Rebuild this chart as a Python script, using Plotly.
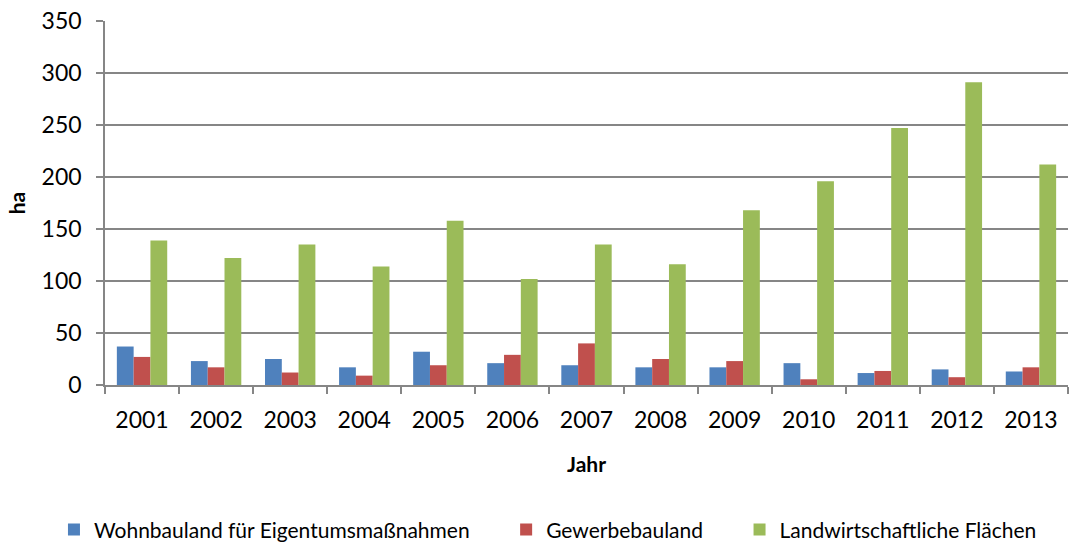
import plotly.graph_objects as go

years = ["2001", "2002", "2003", "2004", "2005", "2006", "2007",
         "2008", "2009", "2010", "2011", "2012", "2013"]
wohnbauland = [37, 23, 25, 17, 32, 21, 19, 17, 17, 21, 11.5, 15, 13]
gewerbebauland = [27, 17, 12, 9, 19, 29, 40, 25, 23, 5.5, 13.5, 7.5, 17]
landwirtschaft = [139, 122, 135, 114, 158, 102, 135, 116, 168, 196, 247, 291, 212]

series_names = ["Wohnbauland für Eigentumsmaßnahmen", "Gewerbebauland",
                "Landwirtschaftliche Flächen"]
legend_pad = ["\u2002" * 3, "\u2002" * 3, ""]
colors = ["#4F81BD", "#C0504D", "#9BBB59"]

FONT = "Lato, Carlito, Calibri, sans-serif"
GRID = "#868686"

fig = go.Figure()
for name, pad, vals, col in zip(series_names, legend_pad,
                                [wohnbauland, gewerbebauland, landwirtschaft], colors):
    fig.add_trace(go.Bar(x=years, y=vals, name=name + pad, marker_color=col,
                         marker_line_width=0))

fig.update_layout(
    width=1077, height=542,
    paper_bgcolor="white", plot_bgcolor="white",
    margin=dict(l=105, r=9, t=21, b=157, autoexpand=False),
    barmode="group", bargap=0.32, bargroupgap=0,
    font=dict(family=FONT, color="#000000", size=20),
    legend=dict(orientation="h", x=-0.053, xanchor="left", y=-0.398, yanchor="middle",
                font=dict(size=21, family=FONT), traceorder="normal",
                itemwidth=30),
    showlegend=True,
)
fig.update_xaxes(type="category", showline=True, linecolor=GRID, linewidth=1.5,
                 ticks="outside", tickson="boundaries", ticklen=7, tickcolor=GRID,
                 tickwidth=1.5, tickfont=dict(size=23, family=FONT),
                 ticklabelstandoff=14, automargin=False,
                 title=dict(text="<b>Jahr</b>", font=dict(size=21, family=FONT), standoff=25),
                 showgrid=False)
fig.update_yaxes(range=[0, 350], dtick=50, showline=True, linecolor=GRID, linewidth=1.5,
                 ticks="outside", ticklen=7, tickcolor=GRID, tickwidth=1.5,
                 showgrid=True, gridcolor=GRID, gridwidth=1.5,
                 tickfont=dict(size=23, family=FONT), ticklabelstandoff=10,
                 automargin=False,
                 title=dict(text="<b>ha</b>", font=dict(size=21, family=FONT), standoff=10),
                 zeroline=False)

fig.write_html("out.html", config={"displayModeBar": False},
               post_script="document.body.style.margin='0';document.body.style.padding='0';")
